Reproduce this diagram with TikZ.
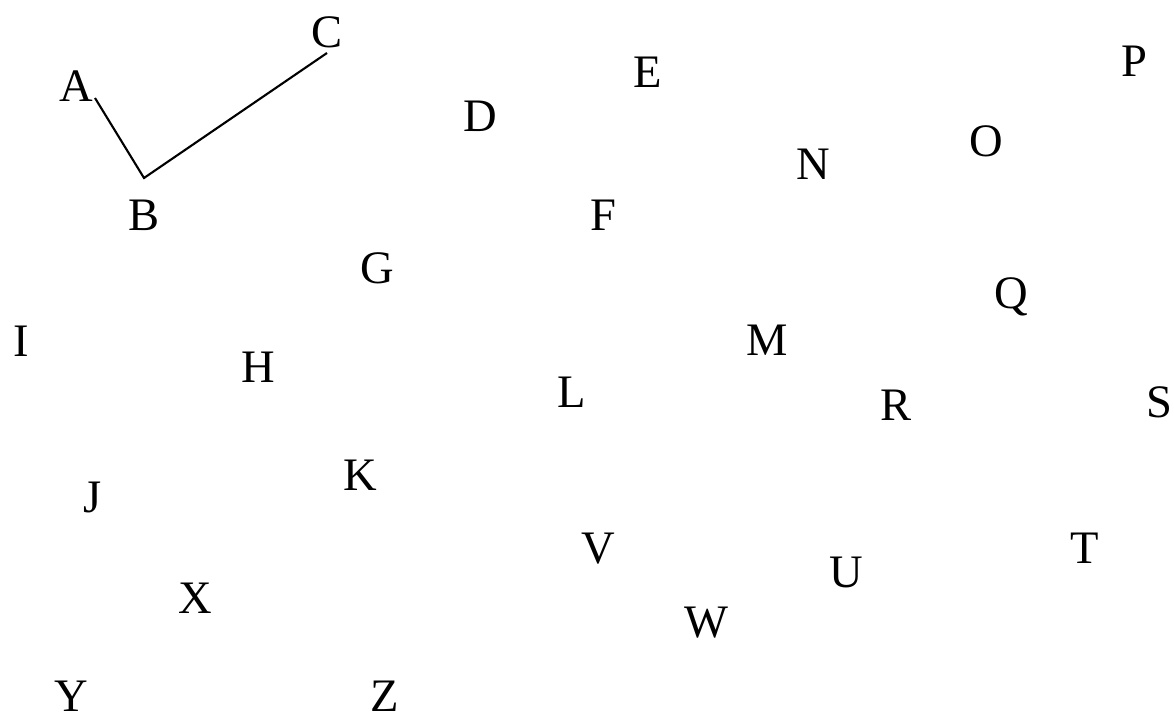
\documentclass[tikz,border=0pt]{standalone}
\usepackage{fontspec}
\setmainfont{Liberation Serif}
\usetikzlibrary{positioning}

\tikzset{pt/.style={inner sep=0pt,anchor=base,font=\fontsize{26.5}{30}\selectfont}}

\begin{document}
\begin{tikzpicture}[x=0.02cm,y=-0.02cm]
      \useasboundingbox (0,0) rectangle (1174,716);
      \node[pt] (A) at (76,102) {A};
      \node[pt] (B) at (144,231) {B};
      \node[pt] (C) at (327,48) {C};
      \node[pt] (D) at (480,132) {D};
      \node[pt] (E) at (648,88) {E};
      \node[pt] (F) at (603,231) {F};
      \node[pt] (G) at (377,284) {G};
      \node[pt] (H) at (258,382) {H};
      \node[pt] (I) at (21,357) {I};
      \node[pt] (J) at (93,512) {J};
      \node[pt] (K) at (360,490) {K};
      \node[pt] (L) at (572,408) {L};
      \node[pt] (M) at (767,356) {M};
      \node[pt] (N) at (813,180) {N};
      \node[pt] (O) at (986,157) {O};
      \node[pt] (P) at (1134,77) {P};
      \node[pt] (Q) at (1011,309) {Q};
      \node[pt] (R) at (896,420) {R};
      \node[pt] (S) at (1159,418) {S};
      \node[pt] (T) at (1085,563) {T};
      \node[pt] (U) at (846,587) {U};
      \node[pt] (V) at (598,563) {V};
      \node[pt] (W) at (706,637) {W};
      \node[pt] (X) at (195,613) {X};
      \node[pt] (Y) at (71,711) {Y};
      \node[pt] (Z) at (385,711) {Z};
      % path A - B - C
      \coordinate (ea) at (95,98);
      \coordinate (eb) at (144,178);
      \coordinate (ec) at (327,53);
      \draw[line width=1.2pt] (ea) -- (eb) -- (ec);
\end{tikzpicture}
\end{document}
